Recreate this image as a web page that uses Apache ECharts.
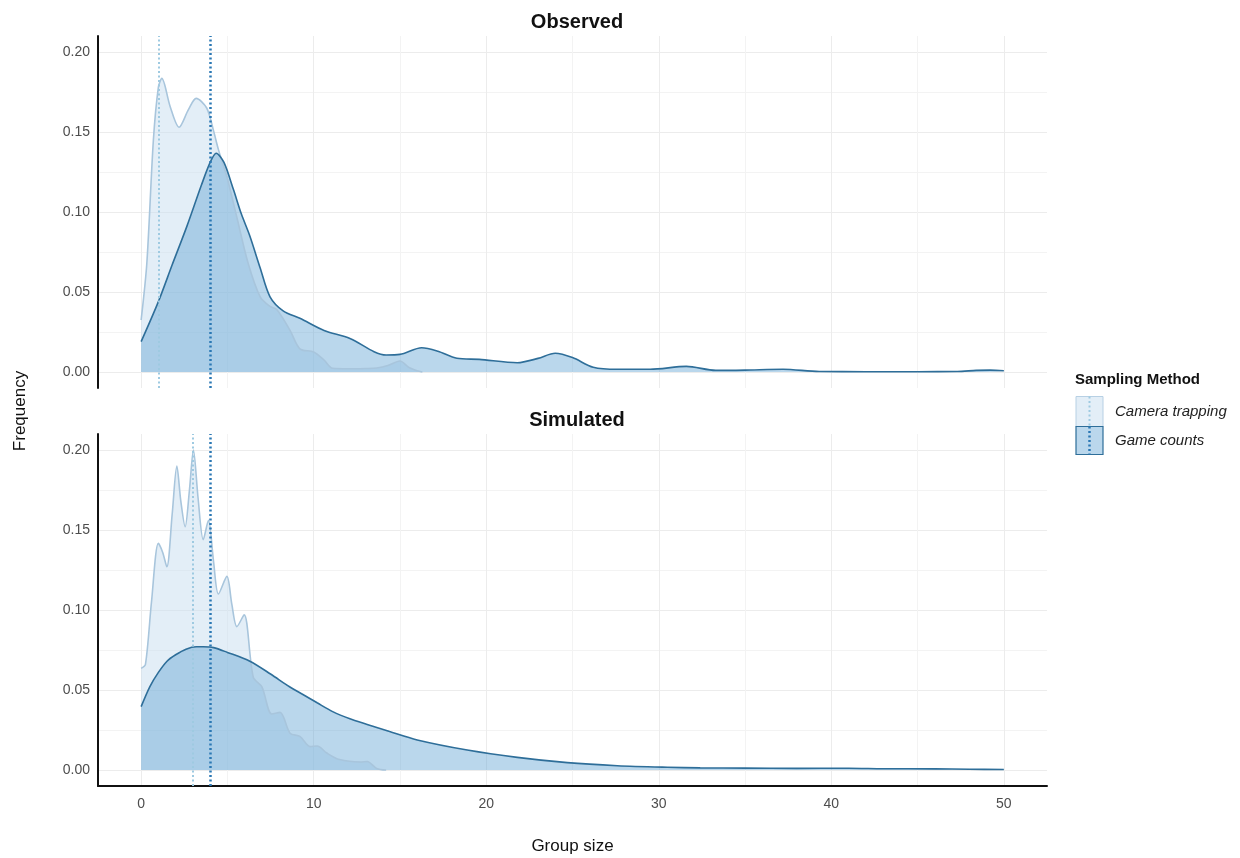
<!DOCTYPE html>
<html>
<head>
<meta charset="utf-8">
<script src="https://cdn.jsdelivr.net/npm/echarts@6/dist/echarts.min.js"></script>
<style>
  html, body { margin: 0; padding: 0; background: #fff; }
  #chart { width: 1240px; height: 858px; }
</style>
</head>
<body>
<div id="chart"></div>
<script>
// Density curves of group size, observed vs simulated, per sampling method

const panelTitles = ['Observed', 'Simulated'];
const methods = ['Camera trapping', 'Game counts'];

// Observed - camera trapping
const obsCamX = [0, 0.33, 0.71, 1.0, 1.2, 1.68, 2.2, 2.74, 3.19, 3.8, 4.19, 4.48, 4.97, 5.54, 6.2, 6.9, 7.47, 7.86, 8.63, 9.2, 10.0, 10.6, 11.1, 12.0, 13.0, 13.65, 14.3, 15.0, 15.5, 16.0, 16.3];
const obsCamY = [0.0325, 0.068, 0.145, 0.178, 0.1835, 0.166, 0.153, 0.164, 0.171, 0.165, 0.151, 0.139, 0.122, 0.097, 0.068, 0.047, 0.041, 0.039, 0.026, 0.0145, 0.0125, 0.0075, 0.0023, 0.002, 0.0022, 0.0025, 0.004, 0.0069, 0.003, 0.0008, 0];

// Observed - game counts
const obsGameX = [0, 1.0, 1.8, 2.65, 3.5, 4.0, 4.35, 4.8, 5.35, 5.8, 6.3, 6.9, 7.47, 8.25, 9.2, 10.6, 12.1, 13.5, 14.2, 15.0, 16.26, 17.2, 18.3, 19.6, 21.8, 23.0, 24.0, 25.0, 26.2, 27.6, 29.5, 31.6, 33.3, 35.0, 37.2, 39.3, 42.0, 45.0, 47.3, 48.4, 49.2, 50.0];
const obsGameY = [0.019, 0.044, 0.067, 0.091, 0.117, 0.131, 0.1367, 0.131, 0.114, 0.099, 0.085, 0.065, 0.047, 0.038, 0.0336, 0.026, 0.021, 0.0127, 0.0106, 0.011, 0.0152, 0.013, 0.0086, 0.0079, 0.0058, 0.0085, 0.0117, 0.009, 0.003, 0.0017, 0.0017, 0.0035, 0.001, 0.0012, 0.0017, 0.0003, 0.0002, 0.0002, 0.0003, 0.001, 0.0012, 0.0008];

// Simulated - camera trapping
const simCamX = [0, 0.25, 0.6, 1.0, 1.25, 1.49, 1.8, 2.07, 2.3, 2.55, 2.8, 3.03, 3.3, 3.6, 3.9, 4.2, 4.48, 4.97, 5.25, 5.55, 5.97, 6.5, 7.0, 7.57, 8.05, 8.63, 9.2, 9.8, 10.2, 10.76, 11.5, 12.7, 13.1, 13.65, 14.2];
const simCamY = [0.0635, 0.066, 0.105, 0.1417, 0.136, 0.127, 0.16, 0.19, 0.168, 0.152, 0.175, 0.2, 0.17, 0.144, 0.156, 0.13, 0.110, 0.121, 0.104, 0.0896, 0.097, 0.058, 0.052, 0.035, 0.036, 0.023, 0.021, 0.0146, 0.015, 0.0106, 0.0065, 0.005, 0.0053, 0.001, 0];

// Simulated - game counts
const simGameX = [0, 0.5, 1.0, 1.5, 2.0, 2.6, 3.2, 3.6, 4.2, 5.0, 6.3, 7.5, 8.6, 9.4, 10.2, 11.1, 12.1, 13.1, 14.4, 16.0, 18.9, 21.8, 24.7, 27.6, 30.5, 32.4, 35.0, 38.0, 41.0, 43.0, 46.0, 48.0, 50.0];
const simGameY = [0.0396, 0.052, 0.061, 0.068, 0.072, 0.0755, 0.077, 0.077, 0.0765, 0.0735, 0.068, 0.060, 0.052, 0.047, 0.042, 0.0365, 0.032, 0.0285, 0.024, 0.0188, 0.0125, 0.0079, 0.0046, 0.0027, 0.0017, 0.0013, 0.0012, 0.001, 0.0011, 0.0008, 0.0007, 0.0005, 0.0003];

// Vertical reference lines (camera, game) per panel
const medianCam = [1, 3];
const medianGame = [4, 4];

const camFill = 'rgba(200,221,240,0.5)';
const camLine = '#a8c5dc';
const camDot = '#9ecae1';
const gameFill = 'rgba(90,160,210,0.42)';
const gameLine = '#2e6e99';
const gameDot = '#2b78b4';

const zip = (xs, ys) => xs.map((x, i) => [x, ys[i]]);

const chart = echarts.init(document.getElementById('chart'));

const grids = [
    { left: 98, width: 949, top: 36, height: 352, outerBoundsMode: 'none', containLabel: false },
    { left: 98, width: 949, top: 434, height: 352, outerBoundsMode: 'none', containLabel: false }
];

const xAxes = [0, 1].map(i => ({
    gridIndex: i,
    type: 'value',
    min: -2.5,
    max: 52.5,
    interval: 2.5,
    axisLine: { show: i === 1, onZero: false, lineStyle: { color: '#111', width: 2 } },
    axisTick: { show: false },
    axisLabel: {
        show: i === 1,
        margin: 11,
        color: '#4d4d4d',
        fontSize: 14,
        fontFamily: 'Liberation Sans',
        formatter: v => (v >= 0 && Math.abs(v % 10) < 1e-9) ? String(v) : ''
    },
    splitLine: {
        show: true,
        lineStyle: { color: ['rgba(0,0,0,0)', '#ececec', 'rgba(0,0,0,0)', '#f3f3f3'], width: 1 }
    },
    name: i === 1 ? 'Group size' : '',
    nameLocation: 'middle',
    nameGap: 52,
    nameTextStyle: { color: '#111', fontSize: 17, fontFamily: 'Liberation Sans' }
}));

const yAxes = [0, 1].map(i => ({
    gridIndex: i,
    type: 'value',
    min: -0.01,
    max: 0.21,
    interval: 0.005,
    axisLine: { show: true, onZero: false, lineStyle: { color: '#111', width: 2 } },
    axisTick: { show: false },
    axisLabel: {
        margin: 8,
        color: '#4d4d4d',
        fontSize: 14,
        fontFamily: 'Liberation Sans',
        formatter: v => {
            const k = Math.round(v * 200);
            return (k >= 0 && k % 10 === 0) ? (k / 200).toFixed(2) : '';
        }
    },
    splitLine: {
        show: true,
        lineStyle: {
            color: ['rgba(0,0,0,0)', 'rgba(0,0,0,0)', '#ececec', 'rgba(0,0,0,0)', 'rgba(0,0,0,0)',
                    'rgba(0,0,0,0)', 'rgba(0,0,0,0)', '#f3f3f3', 'rgba(0,0,0,0)', 'rgba(0,0,0,0)'],
            width: 1
        }
    }
}));

function densitySeries(name, data, panel, fill, line, dotColor, dotValue, dotWidth) {
    return {
        name: name,
        type: 'line',
        xAxisIndex: panel,
        yAxisIndex: panel,
        data: data,
        smooth: 0.3,
        symbol: 'none',
        silent: true,
        lineStyle: { color: line, width: 1.6 },
        areaStyle: { color: fill, opacity: 1 },
        markLine: {
            silent: true,
            symbol: 'none',
            label: { show: false },
            lineStyle: { color: dotColor, width: dotWidth, type: [2, 2.5] },
            data: [{ xAxis: dotValue }]
        }
    };
}

const series = [
    densitySeries(methods[0], zip(obsCamX, obsCamY), 0, camFill, camLine, camDot, medianCam[0], 2),
    densitySeries(methods[1], zip(obsGameX, obsGameY), 0, gameFill, gameLine, gameDot, medianGame[0], 2.5),
    densitySeries(methods[0], zip(simCamX, simCamY), 1, camFill, camLine, camDot, medianCam[1], 2),
    densitySeries(methods[1], zip(simGameX, simGameY), 1, gameFill, gameLine, gameDot, medianGame[1], 2.5)
];

const option = {
    backgroundColor: '#fff',
    animation: false,
    title: panelTitles.map((t, i) => ({
        text: t,
        left: 572,
        top: i === 0 ? 7 : 405,
        textAlign: 'center',
        textStyle: { fontSize: 20, fontWeight: 'bold', color: '#111', fontFamily: 'Liberation Sans' }
    })),
    grid: grids,
    xAxis: xAxes,
    yAxis: yAxes,
    series: series,
    graphic: [
        {
            type: 'text', x: 20, y: 411, rotation: Math.PI / 2,
            style: { text: 'Frequency', fontSize: 17, fill: '#111', fontFamily: 'Liberation Sans', align: 'center', verticalAlign: 'middle' }
        },
        {
            type: 'group', left: 1075, top: 372,
            children: [
                { type: 'text', x: 0, y: 8, style: { text: 'Sampling Method', fontSize: 15, fontWeight: 'bold', fill: '#111', fontFamily: 'Liberation Sans', verticalAlign: 'middle' } },
                { type: 'rect', shape: { x: 1, y: 25, width: 27, height: 30 }, style: { fill: camFill, stroke: '#b7d0e4', lineWidth: 1 } },
                { type: 'line', shape: { x1: 14.5, y1: 25, x2: 14.5, y2: 55 }, style: { stroke: camDot, lineWidth: 2, lineDash: [2, 2.5] } },
                { type: 'rect', shape: { x: 1, y: 55, width: 27, height: 28 }, style: { fill: gameFill, stroke: gameLine, lineWidth: 1.2 } },
                { type: 'line', shape: { x1: 14.5, y1: 55, x2: 14.5, y2: 83 }, style: { stroke: gameDot, lineWidth: 2.5, lineDash: [2, 2.5] } },
                { type: 'text', x: 40, y: 40, style: { text: methods[0], fontSize: 15, fontStyle: 'italic', fill: '#222', fontFamily: 'Liberation Sans', verticalAlign: 'middle' } },
                { type: 'text', x: 40, y: 69, style: { text: methods[1], fontSize: 15, fontStyle: 'italic', fill: '#222', fontFamily: 'Liberation Sans', verticalAlign: 'middle' } }
            ]
        }
    ]
};

chart.setOption(option);
</script>
</body>
</html>
